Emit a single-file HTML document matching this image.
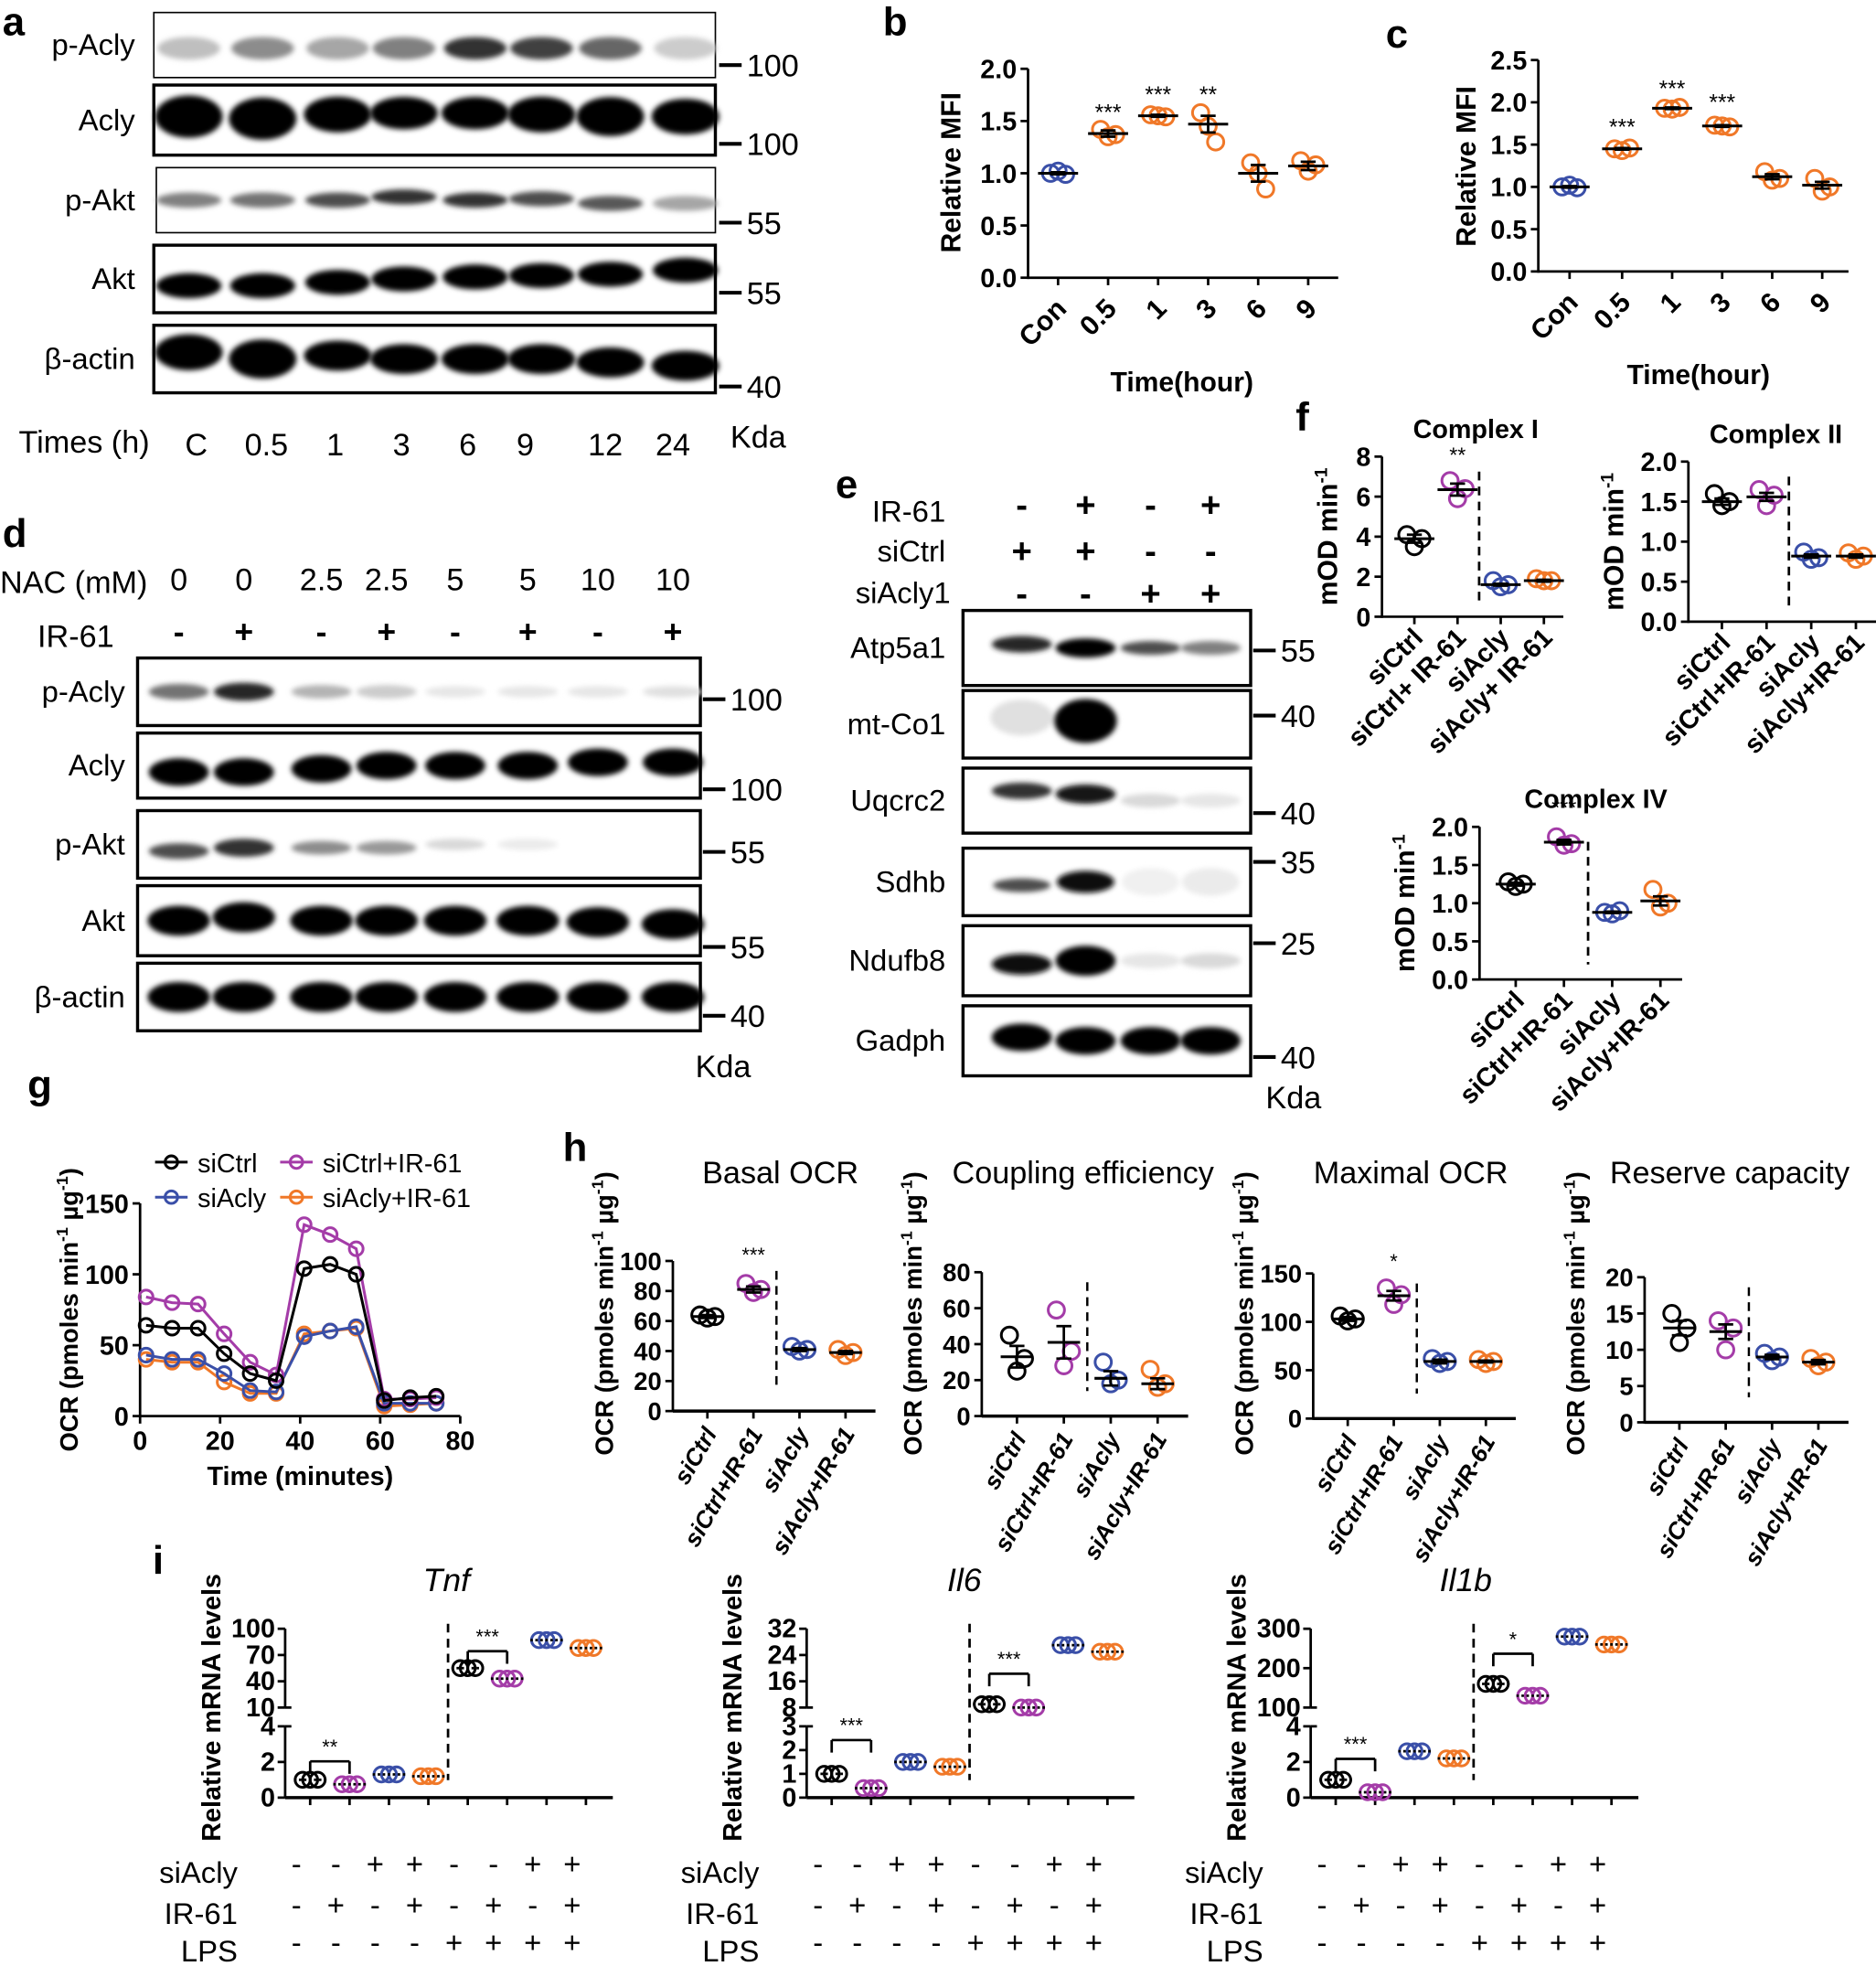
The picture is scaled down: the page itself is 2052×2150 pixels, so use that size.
<!DOCTYPE html>
<html><head><meta charset="utf-8"><style>
html,body{margin:0;padding:0;background:#fff;}
svg{display:block;}
text{font-family:"Liberation Sans",Arial,sans-serif;fill:#000;}
</style></head><body>
<svg id="s" width="2052" height="2150" viewBox="0 0 1500 1571.6" preserveAspectRatio="none" xmlns="http://www.w3.org/2000/svg">
<defs>
<filter id="bl" x="-20%" y="-80%" width="140%" height="260%"><feGaussianBlur stdDeviation="2.2"/></filter>
</defs>
<g id="g"></g>
</svg>
<script>
var o='';
var BL='#3a4fa8',OR='#f07828',PU='#a43ca8',BK='#000';
function T(x,y,s,t,opt){opt=opt||{};o+='<text x="'+x+'" y="'+y+'" font-size="'+s+'"'+(opt.b?' font-weight="bold"':'')+(opt.a?' text-anchor="'+opt.a+'"':'')+(opt.r!=null?' transform="rotate('+opt.r+' '+x+' '+y+')"':'')+(opt.i?' font-style="italic"':'')+'>'+t+'</text>';}
function L(x1,y1,x2,y2,w,c,d){o+='<line x1="'+x1+'" y1="'+y1+'" x2="'+x2+'" y2="'+y2+'" stroke="'+(c||'#000')+'" stroke-width="'+(w||2)+'"'+(d?' stroke-dasharray="'+d+'"':'')+'/>';}
function R(x,y,w,h,sw){o+='<rect x="'+x+'" y="'+y+'" width="'+(w)+'" height="'+h+'" fill="#fff" stroke="#000" stroke-width="'+sw+'"/>';}
function band(cx,cy,w,h,dark){if(dark<=0.02)return;var g=Math.round(255*(1-dark));o+='<ellipse cx="'+cx+'" cy="'+cy+'" rx="'+w/2+'" ry="'+h/2+'" fill="rgb('+g+','+g+','+g+')" filter="url(#bl)"/>';}
function C(x,y,r,c){o+='<circle cx="'+x+'" cy="'+y+'" r="'+r+'" fill="none" stroke="'+c+'" stroke-width="2.2"/>';}
function blot(x,y,w,h,sw,lanes,bands,bh,bw,lab,lx){R(x,y,w,h,sw);for(var i=0;i<lanes.length;i++)band(lanes[i],y+h*bands[i][1],bw,bh*(bands[i][2]||1),bands[i][0]);T(lx,y+h/2+8,24,lab,{a:'end'});}
function mk(x,y,t){L(x,y,x+18,y,3);T(x+22,y+9,25,t);}

// ===== a
T(2,28,32,'a',{b:1});
var la=[151,210,270,323,380,433,488,548];
blot(123,10,449,52,1.2,la,[[.25,.55],[.45,.55],[.35,.55],[.5,.55],[.8,.55],[.75,.55],[.6,.55],[.2,.55]],18,50,'p-Acly',108);
blot(123,68,449,56,2.5,la,[[1,.45,1.3],[1,.48,1.3],[1,.42,1.1],[1,.4],[1,.4],[1,.42,1.1],[1,.45,1.2],[1,.45,1.1]],26,54,'Acly',108);
blot(125,134,447,52,1.2,la,[[.5,.5,.6],[.55,.5,.6],[.7,.5,.6],[.8,.45,.6],[.8,.5,.6],[.7,.48,.6],[.65,.55,.6],[.35,.55,.6]],20,52,'p-Akt',108);
blot(123,196,449,54,2.5,la,[[1,.6],[1,.6],[1,.55],[1,.5],[1,.47],[1,.45],[1,.43],[1,.37]],20,52,'Akt',108);
blot(123,260,449,54,2.5,la,[[1,.4,1.2],[1,.5,1.3],[1,.45],[1,.5],[1,.5],[1,.5],[1,.55],[1,.6]],24,54,'β-actin',108);
mk(575,52,'100');mk(575,115,'100');mk(575,178,'55');mk(575,234,'55');mk(575,309,'40');
T(15,362,25,'Times (h)');
['C','0.5','1','3','6','9','12','24'].forEach(function(t,i){T([157,213,268,321,374,420,484,538][i],364,25,t,{a:'middle'});});
T(584,358,25,'Kda');

// ===== d
T(2,437,32,'d',{b:1});
T(0,474,25,'NAC (mM)');
var ld=[143,195,257,309,364,422,478,538];
['0','0','2.5','2.5','5','5','10','10'].forEach(function(t,i){T(ld[i],472,25,t,{a:'middle'});});
T(30,517,25,'IR-61');
['-','+','-','+','-','+','-','+'].forEach(function(t,i){T(ld[i],514,26,t,{a:'middle',b:1});});
blot(110,526,450,54,2.5,ld,[[.55,.5,.7],[.85,.5,.8],[.3,.5,.6],[.2,.5,.6],[.1,.5,.5],[.1,.5,.5],[.1,.5,.5],[.12,.5,.5]],18,48,'p-Acly',100);
blot(110,586,450,52,2.5,ld,[[1,.6],[1,.6],[1,.55],[1,.5],[1,.5],[1,.5],[1,.45],[1,.45]],22,48,'Acly',100);
blot(110,648,450,54,2.5,ld,[[.7,.6,.7],[.8,.55,.8],[.45,.55,.6],[.4,.55,.6],[.15,.5,.5],[.08,.5,.5],[0,.5],[0,.5]],18,48,'p-Akt',100);
blot(110,708,450,56,2.5,ld,[[1,.5],[1,.45],[1,.5],[1,.5],[1,.5],[1,.5],[1,.52],[1,.55]],24,50,'Akt',100);
blot(110,770,450,54,2.5,ld,[[1,.5],[1,.5],[1,.5],[1,.5],[1,.5],[1,.5],[1,.5],[1,.5]],24,50,'β-actin',100);
mk(562,559,'100');mk(562,631,'100');mk(562,681,'55');mk(562,757,'55');mk(562,812,'40');
T(556,861,25,'Kda');

// ===== e
T(668,398,32,'e',{b:1});
var le=[817,868,920,968];
T(756,417,24,'IR-61',{a:'end'});T(756,449,24,'siCtrl',{a:'end'});T(760,482,24,'siAcly1',{a:'end'});
['-','+','-','+'].forEach(function(t,i){T(le[i],413,28,t,{a:'middle',b:1});});
['+','+','-','-'].forEach(function(t,i){T(le[i],450,28,t,{a:'middle',b:1});});
['-','-','+','+'].forEach(function(t,i){T(le[i],484,28,t,{a:'middle',b:1});});
blot(770,488,230,60,2.5,le,[[.85,.45,.6],[1,.5,.7],[.7,.5,.5],[.5,.5,.5]],22,48,'Atp5a1',756);
blot(770,552,230,54,2.5,le,[[.12,.4,1.3],[1,.45,1.6],[0,.5],[0,.5]],22,50,'mt-Co1',756);
blot(770,614,230,52,2.5,le,[[.8,.35,.6],[.9,.4,.7],[.15,.5,.5],[.1,.5,.5]],22,48,'Uqcrc2',756);
blot(770,678,230,54,2.5,le,[[.7,.55,.5],[.95,.5,.8],[.06,.5],[.08,.5]],22,46,'Sdhb',756);
blot(770,740,230,56,2.5,le,[[.95,.55,.7],[1,.5,1],[.1,.5,.5],[.15,.5,.5]],24,48,'Ndufb8',756);
blot(770,804,230,56,2.5,le,[[1,.45],[1,.5],[1,.5],[1,.5]],22,48,'Gadph',756);
mk(1002,520,'55');mk(1002,572,'40');mk(1002,650,'40');mk(1002,689,'35');mk(1002,754,'25');mk(1002,845,'40');
T(1012,886,25,'Kda');

function yax(x,y0,y1,vmin,vmax,ticks,fs,fmt){L(x,y0+1,x,y1,2);ticks.forEach(function(v){var y=y0-(v-vmin)/(vmax-vmin)*(y0-y1);L(x-6,y,x,y,2);T(x-9,y+fs*0.36,fs,fmt?v.toFixed(fmt):v,{b:1,a:'end'});});}
function grp(cx,vals,c,yf,mean,sem,mw){var ys=vals.map(yf);var off=[-6,0,6];ys.forEach(function(y,i){C(cx+off[i],y,6.5,c);});var my=yf(mean);mw=mw||16;L(cx-mw,my,cx+mw,my,2.2);if(sem){L(cx,yf(mean+sem),cx,yf(mean-sem),2);L(cx-6,yf(mean+sem),cx+6,yf(mean+sem),2);L(cx-6,yf(mean-sem),cx+6,yf(mean-sem),2);}}
function yfun(y0,y1,vmin,vmax){return function(v){return y0-(v-vmin)/(vmax-vmin)*(y0-y1);};}

// ===== b
T(706,28,32,'b',{b:1});
(function(){var y0=222,y1=55,x=822;yax(x,y0,y1,0,2,[0,0.5,1,1.5,2],21,1);L(x,y0,1070,y0,2);
var xs=[846,886,926,966,1006,1046],f=yfun(y0,y1,0,2);
xs.forEach(function(xx){L(xx,y0,xx,y0+6,2);});
grp(846,[1.0,1.02,0.99],BL,f,1.0,0.01);grp(886,[1.42,1.35,1.37],OR,f,1.38,0.03);grp(926,[1.56,1.55,1.54],OR,f,1.55,0.01);
grp(966,[1.58,1.45,1.3],OR,f,1.47,0.08);grp(1006,[1.1,1.0,0.85],OR,f,1.0,0.08);grp(1046,[1.12,1.02,1.08],OR,f,1.07,0.04);
T(886,96,18,'***',{a:'middle'});T(926,82,18,'***',{a:'middle'});T(966,82,18,'**',{a:'middle'});
['Con','0.5','1','3','6','9'].forEach(function(t,i){T(xs[i]+8,248,22,t,{b:1,a:'end',r:-45});});
T(945,313,22,'Time(hour)',{b:1,a:'middle'});T(768,138,22,'Relative MFI',{b:1,a:'middle',r:-90});})();

// ===== c
T(1108,38,32,'c',{b:1});
(function(){var y0=217,y1=48,x=1230;yax(x,y0,y1,0,2.5,[0,0.5,1,1.5,2,2.5],21,1);L(x,y0,1478,y0,2);
var xs=[1255,1297,1337,1377,1417,1457],f=yfun(y0,y1,0,2.5);
xs.forEach(function(xx){L(xx,y0,xx,y0+6,2);});
grp(1255,[1.0,1.02,0.99],BL,f,1.0,0.01);grp(1297,[1.45,1.43,1.46],OR,f,1.45,0.01);grp(1337,[1.93,1.92,1.94],OR,f,1.93,0.01);
grp(1377,[1.73,1.72,1.71],OR,f,1.72,0.01);grp(1417,[1.18,1.08,1.1],OR,f,1.12,0.03);grp(1457,[1.1,0.95,1.0],OR,f,1.02,0.04);
T(1297,108,18,'***',{a:'middle'});T(1337,77,18,'***',{a:'middle'});T(1377,88,18,'***',{a:'middle'});
['Con','0.5','1','3','6','9'].forEach(function(t,i){T(xs[i]+8,243,22,t,{b:1,a:'end',r:-45});});
T(1358,307,22,'Time(hour)',{b:1,a:'middle'});T(1180,133,22,'Relative MFI',{b:1,a:'middle',r:-90});})();

// ===== f
T(1036,344,32,'f',{b:1});
var cats=['siCtrl','siCtrl+ IR-61','siAcly','siAcly+ IR-61'];
function fpl(x,y0,y1,vmax,ticks,fmt,data,title,tx,star,xr,lab2){yax(x,y0,y1,0,vmax,ticks,21,fmt);L(x,y0,xr,y0,2);var f=yfun(y0,y1,0,vmax);var sp=(xr-x)/4.2;var xs=[0,1,2,3].map(function(i){return x+sp*(0.75+i);});
xs.forEach(function(xx){L(xx,y0,xx,y0+6,2);});var cs=[BK,PU,BL,OR];data.forEach(function(d,i){grp(xs[i],d[0],cs[i],f,d[1],d[2]);});
var dx=(xs[1]+xs[2])/2;L(dx,y1+12,dx,y0-12,2,'#000','7,5');T(xs[1],f(data[1][1])-22,17,star,{a:'middle'});
T(tx,y1-15,21,title,{b:1,a:'middle'});(lab2||cats).forEach(function(t,i){T(xs[i]+8,y0+18,21,t,{b:1,a:'end',r:-45});});
var lx=x-(fmt?52:36);T(lx,(y0+y1)/2,22,'mOD min<tspan dy="-8" font-size="14">-1</tspan>',{b:1,a:'middle',r:-90});}
fpl(1105,493,365,8,[0,2,4,6,8],0,[[[4.1,3.5,3.9],3.9,0.2],[[6.8,5.9,6.4],6.35,0.3],[[1.8,1.5,1.6],1.6,0.05],[[1.9,1.8,1.8],1.8,0.05]],'Complex I',1180,'**',1250);
fpl(1350,497,369,2,[0,0.5,1,1.5,2],1,[[[1.6,1.45,1.5],1.5,0.04],[[1.65,1.45,1.58],1.56,0.05],[[0.87,0.78,0.8],0.82,0.02],[[0.86,0.78,0.82],0.82,0.02]],'Complex II',1420,'',1500,['siCtrl','siCtrl+IR-61','siAcly','siAcly+IR-61']);
fpl(1183,783,661,2,[0,0.5,1,1.5,2],1,[[[1.28,1.22,1.25],1.25,0.02],[[1.87,1.76,1.78],1.8,0.03],[[0.88,0.86,0.9],0.88,0.01],[[1.18,0.95,1.0],1.03,0.06]],'Complex IV',1276,'***',1345,['siCtrl','siCtrl+IR-61','siAcly','siAcly+IR-61']);

// ===== g
T(22,878,32,'g',{b:1});
(function(){var x0=112,y0=1132,y1=962,f=yfun(y0,y1,0,150),xf=function(t){return x0+t/80*(368-x0);};
yax(x0,y0,y1,0,150,[0,50,100,150],21,0);L(x0,y0,368,y0,2);[0,20,40,60,80].forEach(function(t){L(xf(t),y0,xf(t),y0+6,2);T(xf(t),y0+27,21,t,{b:1,a:'middle'});});
var tt=[1.5,8,14.5,21,27.5,34,41,47.5,54,61,67.5,74];
var S=[[OR,[40,38,38,24,16,16,58,60,62,7,8,9]],[BL,[43,40,40,30,18,17,56,60,63,9,9,9]],[PU,[84,80,79,58,38,29,135,128,118,12,12,13]],[BK,[64,62,62,44,30,25,104,107,100,11,13,14]]];
S.forEach(function(s){var p=tt.map(function(t,i){return xf(t)+','+f(s[1][i]);}).join(' ');o+='<polyline points="'+p+'" fill="none" stroke="'+s[0]+'" stroke-width="2.2"/>';tt.forEach(function(t,i){C(xf(t),f(s[1][i]),5.5,s[0]);});});
T(240,1187,21,'Time (minutes)',{b:1,a:'middle'});
T(62,1047,20,'OCR (pmoles min<tspan dy="-8" font-size="13">-1</tspan><tspan dy="8"> µg</tspan><tspan dy="-8" font-size="13">-1</tspan><tspan dy="8">)</tspan>',{b:1,a:'middle',r:-90});
function lg(x,y,c,t){L(x,y,x+26,y,2.2,c);C(x+13,y,5,c);T(x+34,y+8,21,t);}
lg(124,929,BK,'siCtrl');lg(124,957,BL,'siAcly');lg(224,929,PU,'siCtrl+IR-61');lg(224,957,OR,'siAcly+IR-61');})();

// ===== h
T(450,928,32,'h',{b:1});
var hc=['siCtrl','siCtrl+IR-61','siAcly','siAcly+IR-61'];
function hpl(x,y0,y1,vmax,ticks,data,title,tx,star,xr){yax(x,y0,y1,0,vmax,ticks,20,0);L(x,y0,xr,y0,2.5);var f=yfun(y0,y1,0,vmax);var sp=(xr-x)/4.4;var xs=[0,1,2,3].map(function(i){return x+sp*(0.75+i);});
xs.forEach(function(xx){L(xx,y0,xx,y0+6,2);});var cs=[BK,PU,BL,OR];data.forEach(function(d,i){grp(xs[i],d[0],cs[i],f,d[1],d[2],13);});
var dx=(xs[1]+xs[2])/2;L(dx,y1+8,dx,y0-20,1.8,'#000','7,5');if(star)T(xs[1],f(data[1][1])-22,16,star,{a:'middle'});
T(tx,946,25,title,{a:'middle'});hc.forEach(function(t,i){T(xs[i]+8,y0+18,19,t,{b:1,i:1,a:'end',r:-60});});
T(x-48,1050,20,'OCR (pmoles min<tspan dy="-8" font-size="13">-1</tspan><tspan dy="8"> µg</tspan><tspan dy="-8" font-size="13">-1</tspan><tspan dy="8">)</tspan>',{b:1,a:'middle',r:-90});}
hpl(538,1128,1008,100,[0,20,40,60,80,100],[[[64,62,63],63,1],[[85,79,81],81,2],[[43,40,41],41,1],[[41,37,39],39,1]],'Basal OCR',624,'***',700);
hpl(785,1132,1017,80,[0,20,40,60,80],[[[45,25,32],33,6],[[59,28,36],41,9],[[30,18,20],21,4],[[26,16,18],18,3]],'Coupling efficiency',866,'',950);
hpl(1050,1134,1018,150,[0,50,100,150],[[[106,101,103],103,2],[[135,118,128],127,5],[[62,57,59],59,2],[[61,57,59],59,1]],'Maximal OCR',1128,'*',1212);
hpl(1315,1137,1021,20,[0,5,10,15,20],[[[15,11,13],13,1],[[14,10,13],12.5,1],[[9.5,8.5,9],9,0.3],[[8.8,7.8,8.3],8.3,0.3]],'Reserve capacity',1383,'',1478);

// ===== i
T(122,1258,32,'i',{b:1});
function ipl(x,title,tx,up,lo,lab,data,s1,s2){var yu0=1365,yu1=1302,yl0=1437,yl1=1380,xr=x+262;
L(x,yu0,x,yu1,2);L(x,yl0,x,yl1,2);L(x,yu0,x+5,yu0,2);L(x,yl1,x+5,yl1,2);
var fu=yfun(yu0,yu1,up[0],up[up.length-1]),fl=yfun(yl0,yl1,lo[0],lo[lo.length-1]);
up.forEach(function(v){L(x-6,fu(v),x,fu(v),2);T(x-8,fu(v)+7,21,v,{b:1,a:'end'});});
lo.forEach(function(v){L(x-6,fl(v),x,fl(v),2);T(x-8,fl(v)+7,21,v,{b:1,a:'end'});});
L(x,yl0,xr,yl0,2.5);var xs=[];for(var i=0;i<8;i++)xs.push(x+20+i*31.5);xs.forEach(function(xx){L(xx,yl0,xx,yl0+6,2);});
var cs=[BK,PU,BL,OR,BK,PU,BL,OR];
data.forEach(function(d,i){var f=i<4?fl:fu;var y=f(d);[-6,0,6].forEach(function(dx){C(xs[i]+dx,y,6,cs[i]);});L(xs[i]-13,y,xs[i]+13,y,2,'#000','2,2');});
var dx=(xs[3]+xs[4])/2;L(dx,yu1-4,dx,yl0-14,2,'#000','7,5');
function br(i,y,s){L(xs[i],y+10,xs[i],y,2);L(xs[i],y,xs[i+1],y,2);L(xs[i+1],y,xs[i+1],y+10,2);T((xs[i]+xs[i+1])/2,y-6,16,s,{a:'middle'});}
br(0,s1[0],s1[1]);br(4,s2[0],s2[1]);
T(tx,1272,26,title,{i:1,a:'middle'});
T(x-52,1365,21,'Relative mRNA levels',{b:1,a:'middle',r:-90});
var rows=[['siAcly',['-','-','+','+','-','-','+','+'],1505],['IR-61',['-','+','-','+','-','+','-','+'],1538],['LPS',['-','-','-','-','+','+','+','+'],1568]];
rows.forEach(function(r){T(x-38,r[2],24,r[0],{a:'end'});r[1].forEach(function(t,i){T(x+9+i*31.5,r[2]-7,24,t,{a:'middle'});});});}
ipl(228,'Tnf',357,[10,40,70,100],[0,2,4],'',[1,0.75,1.3,1.2,55,43,87,78],[1408,'**'],[1320,'***']);
ipl(645,'Il6',771,[8,16,24,32],[0,1,2,3],'',[1,0.4,1.5,1.3,9,8,27,25],[1391,'***'],[1338,'***']);
ipl(1048,'Il1b',1172,[100,200,300],[0,2,4],'',[1,0.3,2.6,2.2,160,130,280,260],[1406,'***'],[1322,'*']);

document.getElementById('g').innerHTML=o;
</script>
</body></html>
